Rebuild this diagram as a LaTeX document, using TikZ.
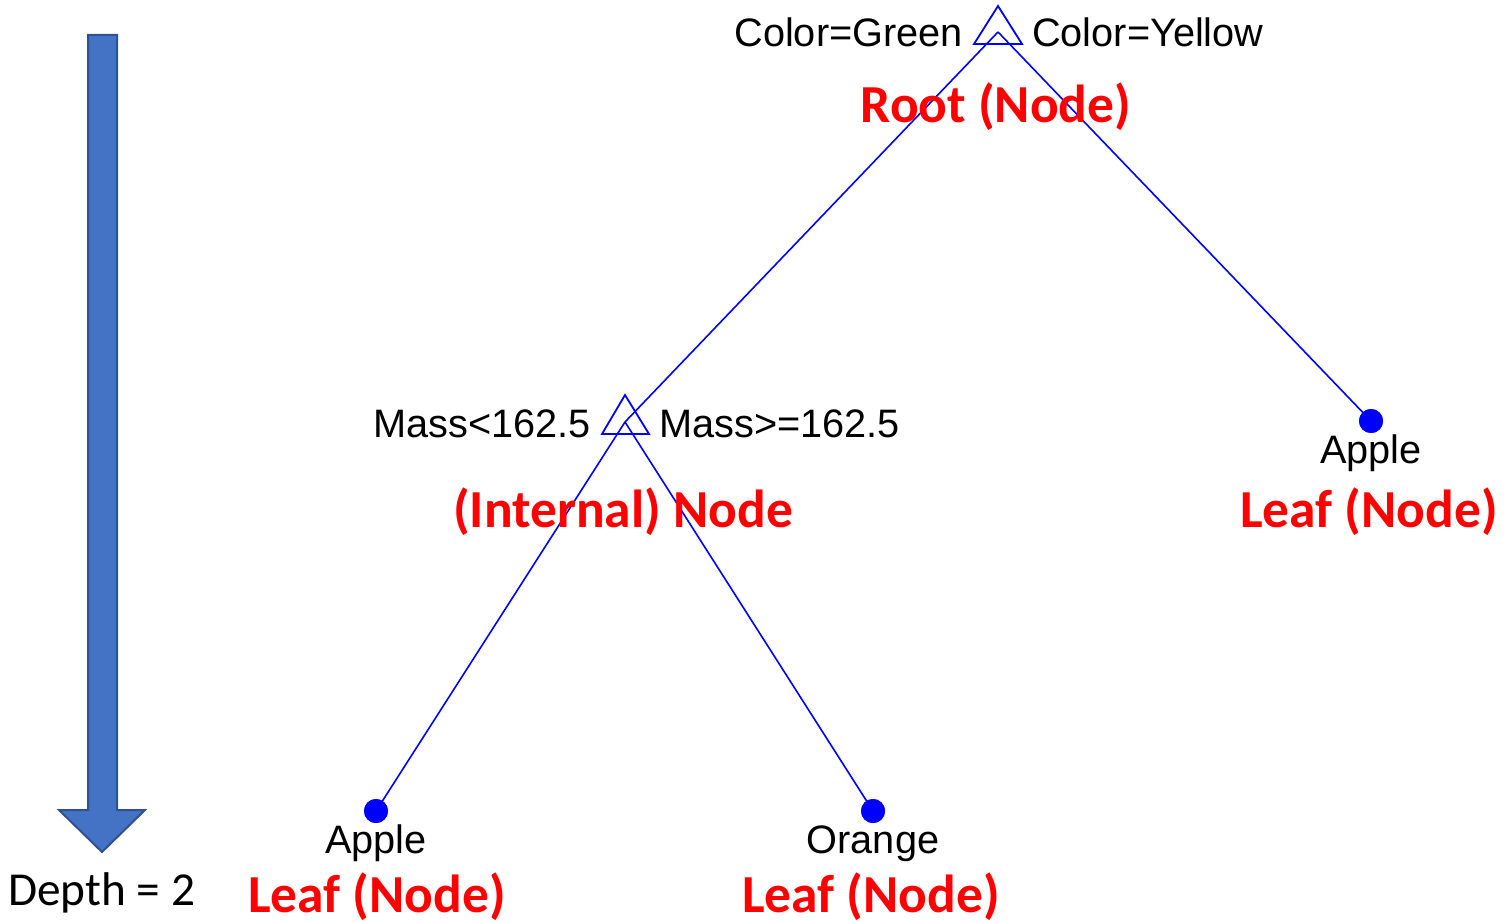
\documentclass[tikz,border=0pt]{standalone}
\usepackage{fontspec}
\setmainfont{Liberation Sans}
\newfontfamily\calibri{Carlito}
\definecolor{arrfill}{HTML}{4472C4}
\definecolor{arrdraw}{HTML}{2F528F}
\definecolor{treeblue}{HTML}{0000FF}
\definecolor{lblred}{HTML}{FF0000}
\begin{document}
\begin{tikzpicture}[x=1pt,y=-1pt,
  edge/.style={draw=treeblue,line width=1.6pt},
  tri/.style={draw=treeblue,line width=1.8pt,line join=miter},
  leaf/.style={circle,fill=treeblue,inner sep=0pt,minimum size=24pt},
  rule/.style={inner sep=0pt,font=\fontsize{39.7}{41}\selectfont},
  tag/.style={inner sep=0pt,text=lblred,font=\calibri\bfseries\fontsize{53.5}{55}\selectfont},
  depth/.style={inner sep=0pt,font=\calibri\fontsize{47.3}{49}\selectfont}]
\useasboundingbox (0,0) rectangle (1504,923);
% arrow
\draw[fill=arrfill,draw=arrdraw,line width=2pt,line join=miter]
  (88,35) -- (117,35) -- (117,810) -- (145,810) -- (102,852) -- (59,810) -- (88,810) -- cycle;
\node[depth,anchor=base west] (depthlbl) at (8,905) {Depth = 2};
% tree nodes
\coordinate (root) at (998,32);
\coordinate (inner) at (625,422);
\node[leaf] (leafA) at (376,811) {};
\node[leaf] (leafO) at (873,811) {};
\node[leaf] (leafR) at (1371,421) {};
% edges
\draw[edge] (root) -- (inner);
\draw[edge] (root) -- (leafR.center);
\draw[edge] (inner) -- (leafA.center);
\draw[edge] (inner) -- (leafO.center);
\node[leaf] at (leafA) {};
\node[leaf] at (leafO) {};
\node[leaf] at (leafR) {};
% triangles
\draw[tri] (998,6) -- (1022,44) -- (974,44) -- cycle;
\draw[tri] (625,395) -- (649,434) -- (602,434) -- cycle;
% rule labels
\node[rule,anchor=base east] (cg) at (963,47) {Color=Green};
\node[rule,anchor=base west] (cy) at (1032,47) {Color=Yellow};
\node[rule,anchor=base east] (ml) at (591,437) {Mass<162.5};
\node[rule,anchor=base west] (mr) at (659,437) {Mass>=162.5};
% leaf labels
\node[rule,anchor=base] (la) at (376,853) {Apple};
\node[rule,anchor=base] (lo) at (873,853) {Orange};
\node[rule,anchor=base] (lr) at (1371,463) {Apple};
% red tags
\node[tag,anchor=base] (troot) at (996,123) {Root (Node)};
\node[tag,anchor=base] (tint) at (623,527) {(Internal) Node};
\node[tag,anchor=base] (tla) at (377,912) {Leaf (Node)};
\node[tag,anchor=base] (tlo) at (871,912) {Leaf (Node)};
\node[tag,anchor=base] (tlr) at (1369,527) {Leaf (Node)};
\end{tikzpicture}
\end{document}
